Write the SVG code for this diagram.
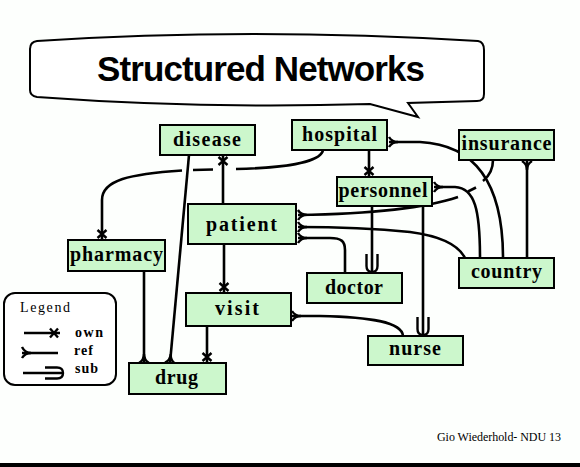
<svg xmlns="http://www.w3.org/2000/svg" width="580" height="467" viewBox="0 0 580 467">
<style>
.node rect{fill:#ccf7cc;stroke:#000;stroke-width:2}
.node text{font-family:"Liberation Serif",serif;font-weight:bold;font-size:20px;text-anchor:middle;fill:#000}
.conn path{fill:none;stroke:#000;stroke-width:2.6}
.mk{fill:none;stroke:#000;stroke-width:2.4}
.leg{font-family:"Liberation Serif",serif;font-size:14px;fill:#000}
</style>
<defs>
<marker id="own" markerUnits="userSpaceOnUse" orient="auto" overflow="visible" markerWidth="1" markerHeight="1" refX="0" refY="0">
<path class="mk" d="M-10,-4.5 L-2,4.5 M-10,4.5 L-2,-4.5"/>
</marker>
<marker id="ref" markerUnits="userSpaceOnUse" orient="auto" overflow="visible" markerWidth="1" markerHeight="1" refX="0" refY="0">
<path class="mk" d="M-9,0 Q-3,0 0,-5 M-9,0 Q-3,0 0,5"/>
</marker>
<marker id="refs" markerUnits="userSpaceOnUse" orient="auto-start-reverse" overflow="visible" markerWidth="1" markerHeight="1" refX="0" refY="0">
<path class="mk" d="M-9,0 Q-3,0 0,-5 M-9,0 Q-3,0 0,6"/>
</marker>
<marker id="sub" markerUnits="userSpaceOnUse" orient="auto" overflow="visible" markerWidth="1" markerHeight="1" refX="0" refY="0">
<path class="mk" d="M-18,-5.5 L-6,-5.5 Q0,-5.5 0,0 Q0,5.5 -6,5.5 L-18,5.5"/>
</marker>
</defs>
<rect x="0" y="0" width="580" height="467" fill="#fdfffd"/>
<rect x="0" y="463" width="580" height="4" fill="#000"/>

<g id="title">
<path d="M37,41 Q250,27 478,41 Q484,42 484,50 L484,94 Q484,101 477,101 L408,103 L418,117 L370,104 Q200,109 37,97 Q30,96 30,90 L30,49 Q30,42 37,41 Z" fill="#fff" stroke="#000" stroke-width="2"/>
<text x="261" y="81" text-anchor="middle" font-family="'Liberation Sans',Arial,sans-serif" font-weight="bold" font-size="35" textLength="328">Structured Networks</text>
</g>

<g id="connectors" class="conn">
<path d="M223,204 L223,155" marker-end="url(#own)"/>
<path d="M323,150 C321,163 280,168 236,169"/>
<path d="M213,169.5 L193,170"/>
<path d="M182,170.5 C130,174 102,180 102,200 L102,240" marker-end="url(#own)"/>
<path d="M493,160 C493,170 488,177 483,181"/>
<path d="M476,187.5 L468,191.5"/>
<path d="M458,197 C420,210 360,214 298,215" marker-end="url(#ref)"/>
<path d="M465,258 C458,244 440,236 410,232 C380,229 340,227 298,227" marker-end="url(#ref)"/>
<path d="M345,273 L345,250 C345,241 341,238 330,238 L298,238" marker-end="url(#ref)"/>
<path d="M503,258 C503,190 480,145 420,142 L389,142" marker-end="url(#ref)"/>
<path d="M480,258 C480,210 475,188 455,187 L434,187" marker-end="url(#ref)"/>
<path d="M527,258 L527,161" marker-end="url(#ref)"/>
<path d="M369,150 L369,177" marker-end="url(#own)"/>
<path d="M372,206 L372,272" marker-end="url(#sub)"/>
<path d="M423,206 L423,335" marker-end="url(#sub)"/>
<path d="M403,336 C402,322 370,317 320,316 L292,316" marker-end="url(#ref)"/>
<path d="M224,244 L224,293" marker-end="url(#own)"/>
<path d="M207,326 L207,363" marker-end="url(#own)"/>
<path d="M144,271 L144,363" marker-end="url(#ref)"/>
<path d="M189,155 L170,363" marker-end="url(#ref)"/>
</g>

<g id="node-disease" class="node"><rect x="160" y="125" width="95" height="30"/><text x="207" y="146" textLength="68">disease</text></g>
<g id="node-hospital" class="node"><rect x="292" y="120" width="95" height="30"/><text x="339.5" y="141" textLength="75">hospital</text></g>
<g id="node-insurance" class="node"><rect x="459" y="130" width="95" height="30"/><text x="506.5" y="150" textLength="90">insurance</text></g>
<g id="node-personnel" class="node"><rect x="337" y="177" width="95" height="29"/><text x="383" y="197" textLength="89">personnel</text></g>
<g id="node-patient" class="node"><rect x="188" y="204" width="108" height="40"/><text x="241.5" y="231" textLength="71">patient</text></g>
<g id="node-pharmacy" class="node"><rect x="68" y="240" width="97" height="31"/><text x="116.5" y="261" textLength="93">pharmacy</text></g>
<g id="node-country" class="node"><rect x="459" y="258" width="95" height="30"/><text x="506.5" y="278" textLength="71">country</text></g>
<g id="node-doctor" class="node"><rect x="307" y="273" width="95" height="30"/><text x="354" y="294" textLength="58">doctor</text></g>
<g id="node-visit" class="node"><rect x="186" y="293" width="105" height="33"/><text x="237" y="315" textLength="44">visit</text></g>
<g id="node-drug" class="node"><rect x="129" y="363" width="97" height="31"/><text x="176.5" y="384" textLength="43">drug</text></g>
<g id="node-nurse" class="node"><rect x="368" y="336" width="95" height="29"/><text x="415" y="355" textLength="52">nurse</text></g>

<g id="legend">
<rect x="4" y="293" width="112" height="92" rx="11" ry="11" fill="#fff" stroke="#000" stroke-width="2"/>
<text class="leg" x="20" y="312" font-size="15" textLength="50">Legend</text>
<g class="conn">
<path d="M24,333 L60,333" marker-end="url(#own)"/>
<path d="M22,353 L58,353" marker-start="url(#refs)"/>
<path d="M23,373 L63,373" marker-end="url(#sub)"/>
</g>
<text class="leg" x="75" y="337" font-weight="bold" textLength="28">own</text>
<text class="leg" x="74" y="355" font-weight="bold" textLength="19">ref</text>
<text class="leg" x="75" y="373" font-weight="bold" textLength="23">sub</text>
</g>

<text x="437" y="441" font-family="'Liberation Serif',serif" font-size="12" textLength="124">Gio Wiederhold- NDU 13</text>
</svg>
